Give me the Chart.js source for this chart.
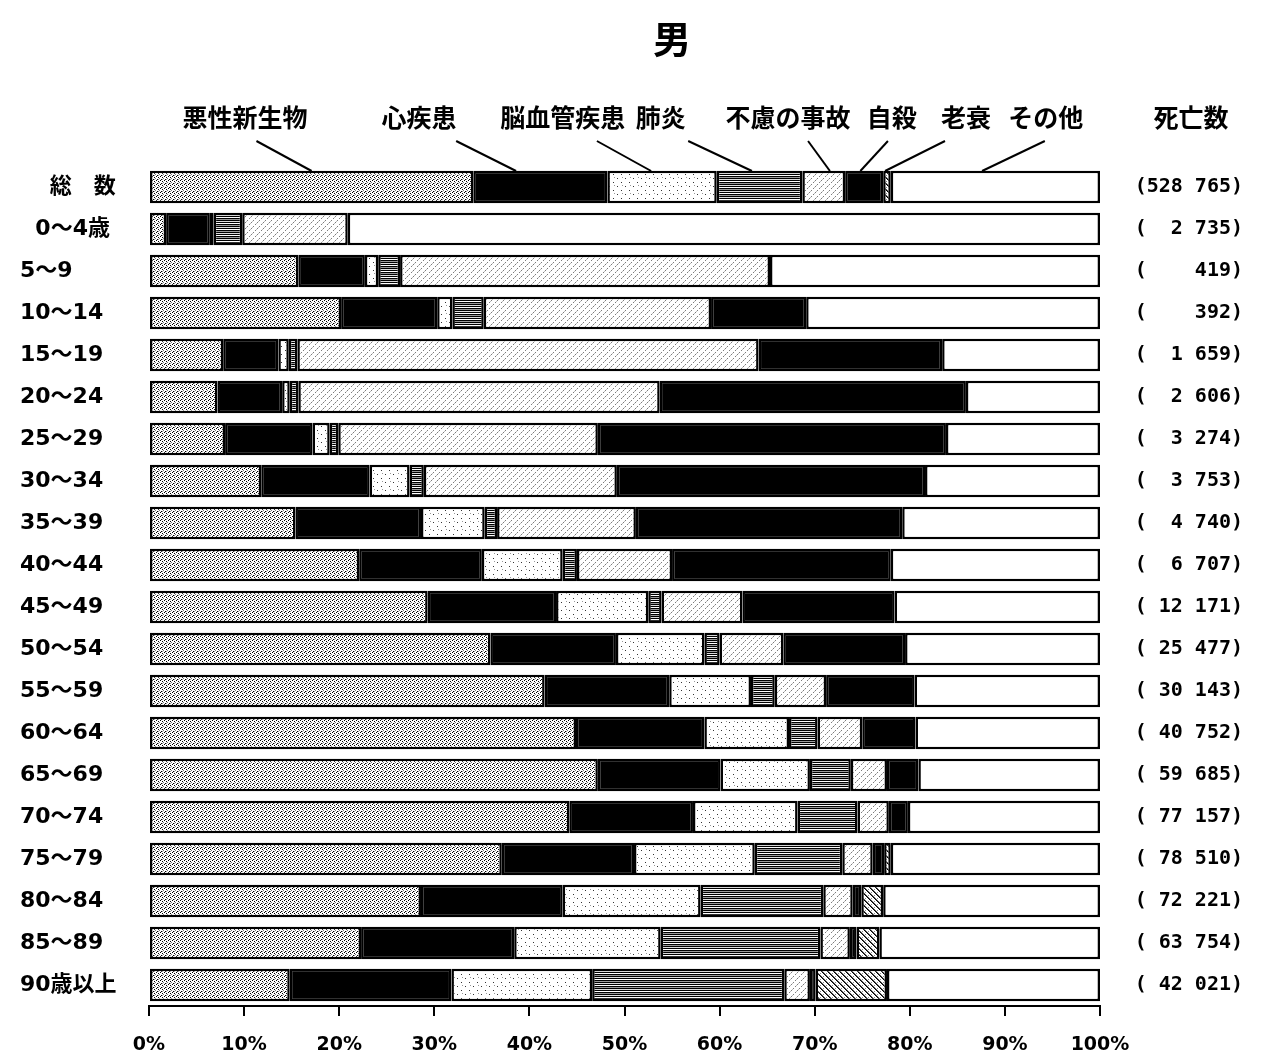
<!DOCTYPE html>
<html>
<head>
<meta charset="utf-8">
<script src="https://cdn.jsdelivr.net/npm/chart.js@4/dist/chart.umd.min.js"></script>
<style>
  html, body { margin: 0; padding: 0; background: #fff; }
  canvas { display: block; }
</style>
</head>
<body>
<canvas id="c" width="1263" height="1059"></canvas>
<script>
// Age groups (rows, top to bottom)
const categories = ['　 総　数', '  0～4歳', '5～9', '10～14', '15～19', '20～24', '25～29', '30～34',
  '35～39', '40～44', '45～49', '50～54', '55～59', '60～64', '65～69', '70～74',
  '75～79', '80～84', '85～89', '90歳以上'];

// Number of deaths per row, shown on the right
const deathCounts = ['(528 765)', '(  2 735)', '(    419)', '(    392)', '(  1 659)', '(  2 606)',
  '(  3 274)', '(  3 753)', '(  4 740)', '(  6 707)', '( 12 171)', '( 25 477)', '( 30 143)',
  '( 40 752)', '( 59 685)', '( 77 157)', '( 78 510)', '( 72 221)', '( 63 754)', '( 42 021)'];

const causeNames = ['悪性新生物', '心疾患', '脳血管疾患', '肺炎', '不慮の事故', '自殺', '老衰', 'その他'];

// Share of deaths by cause (%)
const malignant   = [34.1, 1.8, 15.7, 20.2, 7.8, 7.2, 8.0, 11.8, 15.4, 22.1, 29.3, 35.9, 41.6, 44.9, 47.2, 44.2, 37.1, 28.6, 22.3, 14.8];
const heart       = [14.1, 4.6, 7.0, 10.1, 5.8, 6.8, 9.2, 11.4, 13.2, 12.9, 13.5, 13.2, 13.1, 13.5, 12.9, 13.0, 13.9, 14.9, 16.1, 17.0];
const cerebro     = [11.5, 0.4, 1.4, 1.6, 1.1, 0.8, 1.8, 4.2, 6.7, 8.5, 9.7, 9.3, 8.6, 8.9, 9.4, 11.0, 12.7, 14.5, 15.4, 14.8];
const pneumonia   = [9.0, 3.0, 2.3, 3.3, 0.9, 0.9, 0.9, 1.5, 1.3, 1.5, 1.4, 1.6, 2.5, 3.0, 4.3, 6.3, 9.2, 12.9, 16.8, 20.2];
const accident    = [4.5, 11.1, 38.9, 23.9, 48.5, 38.0, 27.3, 20.3, 14.6, 10.0, 8.5, 6.7, 5.4, 4.7, 3.8, 3.3, 3.2, 3.1, 3.1, 2.7];
const suicide     = [4.0, 0, 0, 10.0, 19.3, 32.2, 36.6, 32.4, 28.0, 23.0, 16.0, 12.8, 9.3, 5.6, 3.3, 2.0, 1.2, 0.9, 0.7, 0.6];
const senility    = [0.8, 0, 0, 0, 0, 0, 0, 0, 0, 0, 0, 0, 0, 0, 0, 0, 0.7, 2.3, 2.4, 7.5];
const other       = [22.0, 79.1, 34.7, 30.9, 16.6, 14.1, 16.2, 18.4, 20.8, 22.0, 21.6, 20.5, 19.5, 19.4, 19.1, 20.2, 22.0, 22.8, 23.2, 22.4];

const xTickValues = [0, 10, 20, 30, 40, 50, 60, 70, 80, 90, 100];

const ctx = document.getElementById('c').getContext('2d');

// Small repeating textures for the monochrome fills
function makePattern(w, h, draw) {
  const c = document.createElement('canvas');
  c.width = w; c.height = h;
  const g = c.getContext('2d');
  g.fillStyle = '#fff';
  g.fillRect(0, 0, w, h);
  draw(g);
  return ctx.createPattern(c, 'repeat');
}
function dots(g, color, pts) {
  g.fillStyle = color;
  pts.forEach(([x, y]) => g.fillRect(x, y, 1, 1));
}

const stipple = makePattern(4, 4, g => {
  dots(g, '#000', [[0, 0], [2, 1], [1, 3]]);
  dots(g, '#7a7a7a', [[3, 2]]);
  dots(g, '#a0a0a0', [[2, 3]]);
});
const sparseDots = makePattern(8, 8, g => {
  dots(g, '#333', [[1, 2], [5, 6]]);
  dots(g, '#999', [[6, 1]]);
});
const hLines = makePattern(8, 6, g => {
  g.fillStyle = '#000';
  g.fillRect(0, 0, 8, 1); g.fillRect(0, 2, 8, 1); g.fillRect(0, 4, 8, 1);
  g.fillStyle = '#9a9a9a'; g.fillRect(0, 3, 8, 1);
  g.fillStyle = '#dcdcdc'; g.fillRect(0, 5, 8, 1);
});
const lightHatch = makePattern(6, 6, g => {
  dots(g, '#7d7d7d', [[5, 0], [3, 2], [1, 4]]);
  dots(g, '#bdbdbd', [[4, 1], [0, 5]]);
});
const darkHatch = makePattern(6, 6, g => {
  dots(g, '#000', [[0, 0], [1, 1], [2, 2], [3, 3], [4, 4], [5, 5]]);
  dots(g, '#555', [[1, 0], [2, 1], [3, 2], [4, 3], [5, 4], [0, 5]]);
  dots(g, '#888', [[4, 1], [1, 4]]);
});

const fills = [stipple, '#000', sparseDots, hLines, lightHatch, '#000', darkHatch, '#fff'];
const series = [malignant, heart, cerebro, pneumonia, accident, suicide, senility, other];

// Cause labels above the chart with leader lines to the 総数 bar (x in % units)
const headerLabels = [
  { text: '悪性新生物', x: 10.1, from: 11.3, to: 17.1 },
  { text: '心疾患',     x: 28.4, from: 32.3, to: 38.6 },
  { text: '脳血管疾患', x: 43.5, from: 47.1, to: 52.8 },
  { text: '肺炎',       x: 53.8, from: 56.7, to: 63.4 },
  { text: '不慮の事故', x: 67.2, from: 69.3, to: 71.6 },
  { text: '自殺',       x: 78.1, from: 77.7, to: 74.8 },
  { text: '老衰',       x: 85.9, from: 83.7, to: 77.4 },
  { text: 'その他',     x: 94.3, from: 94.2, to: 87.6 },
];

const CJK = '"Noto Sans CJK JP", sans-serif';
const LATIN = '"DejaVu Sans", "Noto Sans CJK JP", sans-serif';

const decorations = {
  id: 'decorations',
  afterDraw(chart) {
    const g = chart.ctx;
    const xs = chart.scales.x;
    g.save();
    g.fillStyle = '#000';
    g.strokeStyle = '#000';
    g.textAlign = 'center';
    g.textBaseline = 'middle';

    g.font = 'bold 38px ' + CJK;
    g.fillText('男', xs.getPixelForValue(55.0), 39);

    g.font = 'bold 25px ' + CJK;
    headerLabels.forEach(h => {
      g.fillText(h.text, xs.getPixelForValue(h.x), 117);
      g.lineWidth = 2;
      g.beginPath();
      g.moveTo(xs.getPixelForValue(h.from), 141);
      g.lineTo(xs.getPixelForValue(h.to), chart.chartArea.top + 5);
      g.stroke();
    });
    g.fillText('死亡数', 1191, 117);
    g.restore();
  }
};

new Chart(ctx, {
  type: 'bar',
  data: {
    labels: categories,
    datasets: series.map((vals, i) => ({
      label: causeNames[i],
      data: vals,
      backgroundColor: fills[i],
      borderColor: '#000',
      borderWidth: 2.5,
      borderSkipped: false,
      barPercentage: 0.77,
      categoryPercentage: 1.0,
      yAxisID: 'y'
    }))
  },
  options: {
    indexAxis: 'y',
    responsive: false,
    animation: false,
    devicePixelRatio: 1,
    layout: { padding: { top: 166, left: 20, right: 20, bottom: 0 } },
    plugins: {
      legend: { display: false },
      tooltip: { enabled: false },
      title: { display: false }
    },
    scales: {
      x: {
        stacked: true,
        min: 0,
        max: 100,
        afterBuildTicks: s => { s.ticks = xTickValues.map(v => ({ value: v })); },
        afterFit: s => { s.height = 53; },
        grid: { drawOnChartArea: false, drawTicks: true, tickLength: 10, color: '#000', lineWidth: 2 },
        border: { display: true, color: '#000', width: 2 },
        ticks: {
          color: '#000',
          padding: 18,
          maxRotation: 0,
          font: { family: LATIN, weight: 'bold', size: 19 },
          callback: v => v + '%'
        }
      },
      y: {
        type: 'category',
        stacked: true,
        position: 'left',
        offset: true,
        afterFit: s => { s.width = 129; },
        grid: { display: false },
        border: { display: false },
        ticks: {
          color: '#000',
          crossAlign: 'far',
          font: { family: LATIN, weight: 'bold', size: 22 }
        }
      },
      y2: {
        type: 'category',
        position: 'right',
        labels: deathCounts,
        offset: true,
        afterFit: s => { s.width = 143; },
        grid: { display: false },
        border: { display: false },
        ticks: {
          color: '#000',
          crossAlign: 'far',
          font: { family: '"DejaVu Sans Mono", monospace', weight: 'bold', size: 20 }
        }
      }
    }
  },
  plugins: [decorations]
});
</script>
</body>
</html>
